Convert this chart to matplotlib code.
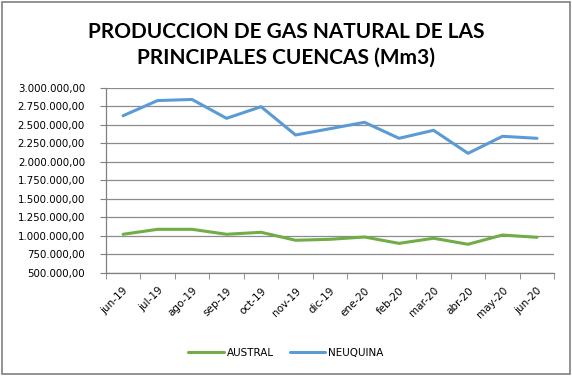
import matplotlib
matplotlib.use("Agg")
import matplotlib.pyplot as plt
from matplotlib.ticker import FuncFormatter, FixedLocator
from matplotlib.patches import Rectangle

months = ["jun-19", "jul-19", "ago-19", "sep-19", "oct-19", "nov-19", "dic-19",
          "ene-20", "feb-20", "mar-20", "abr-20", "may-20", "jun-20"]
austral = [1023000, 1090000, 1090000, 1023000, 1050000, 942000, 955000,
           986000, 900000, 969000, 888000, 1013000, 982000]
neuquina = [2625000, 2830000, 2845000, 2590000, 2747000, 2365000, 2450000,
            2536000, 2320000, 2428000, 2117000, 2347000, 2320000]

fig = plt.figure(figsize=(5.72, 3.76), dpi=100)
ax = fig.add_axes([0.185, 0.274, 0.784, 0.492])

x = list(range(len(months)))
ax.plot(x, austral, color="#70AD47", lw=2.2, label="AUSTRAL", solid_capstyle="round")
ax.plot(x, neuquina, color="#5B9BD5", lw=2.2, label="NEUQUINA", solid_capstyle="round")

ax.set_xlim(-0.5, len(months) - 0.5)
ax.set_ylim(500000, 3000000)
ax.set_yticks(range(500000, 3000001, 250000))

def fmt(v, p):
    s = f"{v:,.2f}"
    return s.replace(",", "X").replace(".", ",").replace("X", ".")
ax.yaxis.set_major_formatter(FuncFormatter(fmt))

ax.set_xticks(x)
ax.set_xticklabels(months, rotation=45, ha="right", rotation_mode="anchor")
ax.xaxis.set_minor_locator(FixedLocator([i - 0.5 for i in range(len(months) + 1)]))
ax.tick_params(axis="x", which="major", length=0, pad=9, labelsize=7.5, colors="black")
ax.tick_params(axis="x", which="minor", length=4, color="#808080", direction="out")
ax.tick_params(axis="y", length=4, color="#808080", labelsize=7.4, pad=11)

ax.grid(axis="y", color="#8c8c8c", lw=0.9)
ax.set_axisbelow(True)
for s in ["top", "right"]:
    ax.spines[s].set_visible(False)
for s in ["left", "bottom"]:
    ax.spines[s].set_color("#808080")
    ax.spines[s].set_linewidth(0.9)

fig.text(0.5, 0.882, "PRODUCCION DE GAS NATURAL DE LAS\nPRINCIPALES CUENCAS (Mm3)",
         ha="center", va="center", fontsize=15, fontweight="bold",
         family="Lato", linespacing=1.35)

leg = fig.legend(loc="center", bbox_to_anchor=(0.5, 0.062), ncol=2, frameon=False,
                 fontsize=7.5, handlelength=3.4, columnspacing=1.5, handletextpad=0.3)

fig.patches.append(Rectangle((0.003, 0.004), 0.994, 0.992, transform=fig.transFigure,
                             fill=False, edgecolor="#808080", lw=1.2))

fig.savefig("out.png", dpi=100)
